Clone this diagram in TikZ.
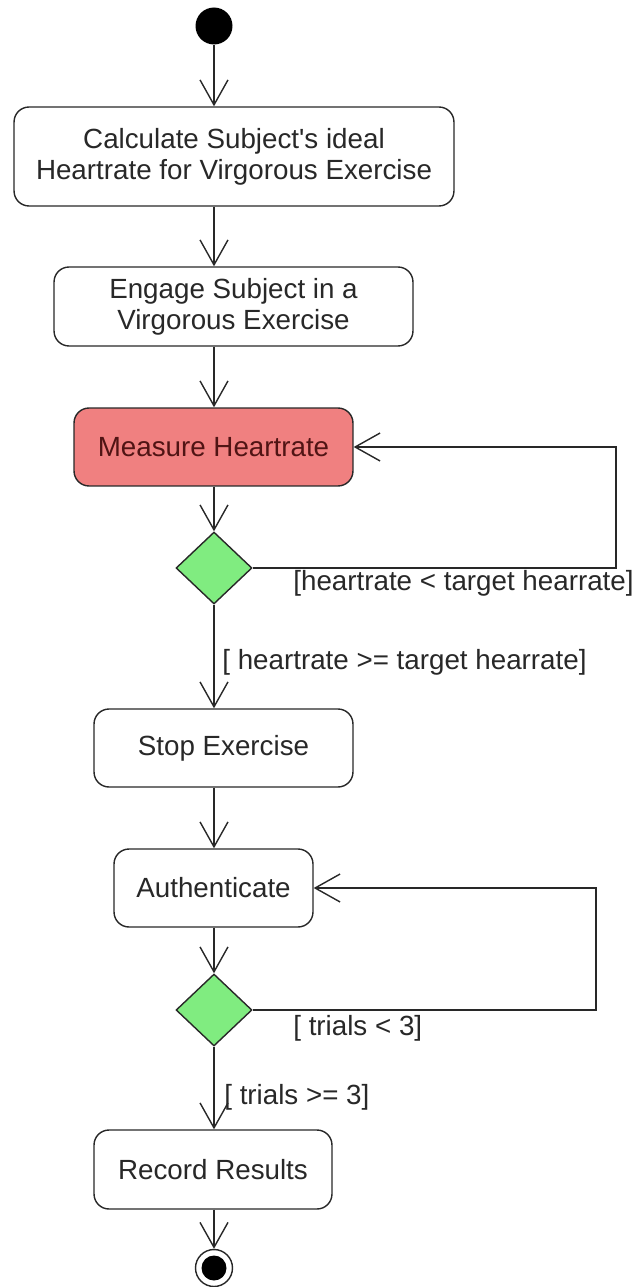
\documentclass[tikz,border=0pt]{standalone}
\usepackage{fontspec}
\setmainfont{Liberation Sans}
\usepackage{tikz}
\usetikzlibrary{shapes.geometric}
\usetikzlibrary{arrows.meta}
\usepackage{xcolor}
\definecolor{actred}{RGB}{240,128,128}
\definecolor{actredtext}{RGB}{80,20,20}
\definecolor{decgreen}{RGB}{128,236,128}
\definecolor{inkgray}{RGB}{40,40,40}

\begin{document}
\begin{tikzpicture}[x=0.02cm,y=-0.02cm,
  action/.style={draw=inkgray, line width=0.8pt, rounded corners=0.3cm, fill=white, text=inkgray, align=center, inner sep=0, minimum height=1.56cm, font=\fontsize{15.8}{17.6}\selectfont},
  decision/.style={diamond, draw=inkgray, line width=0.8pt, fill=decgreen, inner sep=0, minimum width=1.52cm, minimum height=1.44cm},
  flow/.style={draw=inkgray, line width=0.8pt, -{Straight Barb[length=5mm,width=5.6mm]}},
  guard/.style={anchor=west, inner sep=0, text=inkgray, font=\fontsize{15.8}{17.6}\selectfont}]
\useasboundingbox (0,0) rectangle (641,1287);

% activities
\node[circle, fill=black, minimum size=0.74cm, inner sep=0] (init) at (214,26) {};
\node[action, minimum width=8.8cm, minimum height=1.98cm] (calc) at (234,156.5) {Calculate Subject\textquotesingle s ideal\\Heartrate for Virgorous Exercise};
\node[action, minimum width=7.18cm, minimum height=1.58cm] (engage) at (233.5,306.5) {Engage Subject in a\\Virgorous Exercise};
\node[action, fill=actred, text=actredtext, minimum width=5.58cm] (measure) at (213.5,447) {Measure Heartrate};
\node[decision] (check) at (214,568) {};
\node[action, minimum width=5.18cm] (stopex) at (223.5,748) {Stop Exercise};
\node[action, minimum width=3.98cm] (auth) at (213.5,888) {Authenticate};
\node[decision] (trials) at (214,1010) {};
\node[action, minimum width=4.76cm, minimum height=1.58cm] (record) at (213,1169.5) {Record Results};
\node[circle, draw=inkgray, line width=0.8pt, fill=white, minimum size=0.74cm, inner sep=0] (final) at (214,1268) {};
\fill[black] (final.center) circle (0.25cm);

% flows
\draw[flow] (init) -- (init |- calc.north);
\draw[flow] (calc.south -| init) -- (init |- engage.north);
\draw[flow] (engage.south -| init) -- (init |- measure.north);
\draw[flow] (measure.south -| init) -- (check.north);
\draw[flow] (check.south) -- (check |- stopex.north);
\draw[flow] (stopex.south -| check) -- (check |- auth.north);
\draw[flow] (auth.south -| check) -- (trials.north);
\draw[flow] (trials.south) -- (trials |- record.north);
\draw[flow] (record.south -| trials) -- (final.north);

% loops back
\coordinate (back1) at (616,447);
\draw[flow] (check.east) -| (back1) -- (measure.east);
\coordinate (back2) at (596,888);
\draw[flow] (trials.east) -| (back2) -- (auth.east);

% guards
\node[guard] (lt1) at (293,583) {[heartrate < target hearrate]};
\node[guard] (ge1) at (222,662) {[ heartrate >= target hearrate]};
\node[guard] (lt2) at (293,1028) {[ trials < 3]};
\node[guard] (ge2) at (224,1097) {[ trials >= 3]};

\end{tikzpicture}
\end{document}
